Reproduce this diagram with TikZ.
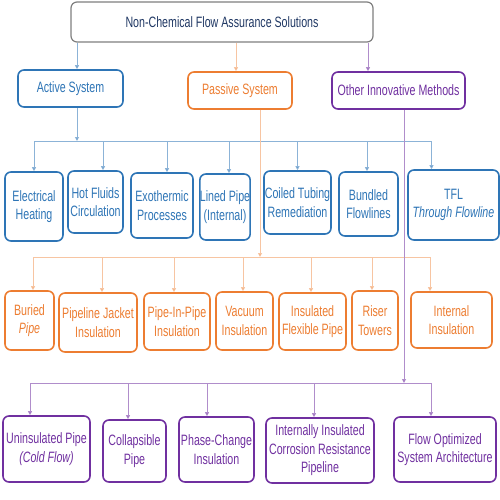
\documentclass[tikz,border=0pt]{standalone}
\usepackage{fontspec}
\setmainfont{Liberation Sans}[FakeStretch=0.71]
\usepackage{tikz}
\usetikzlibrary{arrows.meta,positioning}
\usepackage{xcolor}
\definecolor{actblue}{HTML}{2E75B6}
\definecolor{pasorange}{HTML}{ED7D31}
\definecolor{othpurple}{HTML}{7030A0}
\definecolor{topnavy}{HTML}{203864}
\definecolor{topgray}{HTML}{7F7F7F}
\tikzstyle{box} = [
    draw,
    line width=1.6pt,
    rounded corners=6pt,
    align=center,
    inner sep=0pt,
    fill=white
]
\tikzstyle{actbox} = [box, draw=actblue, text=actblue]
\tikzstyle{pasbox} = [box, draw=pasorange, text=pasorange]
\tikzstyle{othbox} = [box, draw=othpurple, text=othpurple]
\tikzstyle{barrow} = [line width=0.9pt, -{Triangle[width=4pt,length=4pt,fill=actblue]}, draw=actblue!55]
\tikzstyle{parrow} = [line width=0.9pt, -{Triangle[width=4pt,length=4pt,fill=pasorange]}, draw=pasorange!45]
\tikzstyle{oarrow} = [line width=0.9pt, -{Triangle[width=4pt,length=4pt,fill=othpurple]}, draw=othpurple!55]

\begin{document}
\begin{tikzpicture}[x=1pt,y=-1pt,font=\fontsize{15}{18.5}\selectfont]
\useasboundingbox (0,0) rectangle (500,500);

% Root
\node[box, draw=topgray, line width=1.2pt, text=topnavy, minimum width=302pt, minimum height=40pt] (root) at (222,22) {Non-Chemical Flow Assurance Solutions};

% Main branches
\node[actbox, minimum width=105pt, minimum height=37pt] (act) at (70.5,88.5) {Active System};
\node[pasbox, minimum width=104pt, minimum height=37pt] (pas) at (240,90.5) {Passive System};
\node[othbox, minimum width=133pt, minimum height=37pt] (oth) at (398.5,90.5) {Other Innovative Methods};

\draw[barrow] ([xshift=6.5]act.north |- root.south) -- ([xshift=6.5]act.north);
\draw[parrow] ([xshift=-4]pas.north |- root.south) -- ([xshift=-4]pas.north);
\draw[oarrow] ([xshift=-30.5]oth.north |- root.south) -- ([xshift=-30.5]oth.north);

% Active system methods
\node[actbox, minimum width=58pt, minimum height=69pt] (eh) at (34,206.5) {Electrical\\Heating};
\node[actbox, minimum width=55pt, minimum height=62pt] (hf) at (95.5,202) {Hot Fluids\\Circulation};
\node[actbox, minimum width=62pt, minimum height=65pt] (ex) at (162,205.5) {Exothermic\\Processes};
\node[actbox, minimum width=50pt, minimum height=66pt] (lp) at (225,207) {Lined Pipe\\(Internal)};
\node[actbox, minimum width=67pt, minimum height=63pt] (ct) at (297.5,202.5) {Coiled Tubing\\Remediation};
\node[actbox, minimum width=59pt, minimum height=64pt] (bf) at (368.5,204) {Bundled\\Flowlines};
\node[actbox, minimum width=91pt, minimum height=70pt] (tfl) at (453.5,205) {TFL\\\textit{Through Flowline}};

% Passive system methods
\node[pasbox, minimum width=49pt, minimum height=59pt] (bp) at (29.5,320.5) {Buried\\\textit{Pipe}};
\node[pasbox, minimum width=78pt, minimum height=59pt] (pj) at (98,322.5) {Pipeline Jacket\\Insulation};
\node[pasbox, minimum width=66pt, minimum height=57pt] (pip) at (177,321.5) {Pipe-In-Pipe\\Insulation};
\node[pasbox, minimum width=57pt, minimum height=58pt] (vi) at (244.5,321) {Vacuum\\Insulation};
\node[pasbox, minimum width=67pt, minimum height=57pt] (ifp) at (312.5,321.5) {Insulated\\Flexible Pipe};
\node[pasbox, minimum width=46pt, minimum height=59pt] (rt) at (375,320.5) {Riser\\Towers};
\node[pasbox, minimum width=81pt, minimum height=56pt] (ii) at (451.5,320) {Internal\\Insulation};

% Other innovative methods
\node[othbox, minimum width=87pt, minimum height=66pt] (up) at (46.5,449) {Uninsulated Pipe\\\textit{(Cold Flow)}};
\node[othbox, minimum width=63pt, minimum height=62pt] (cp) at (134.5,451) {Collapsible\\Pipe};
\node[othbox, minimum width=75pt, minimum height=65pt] (pc) at (216.5,449.5) {Phase-Change\\Insulation};
\node[othbox, minimum width=108pt, minimum height=65pt] (iic) at (320,450.5) {Internally Insulated\\Corrosion Resistance\\Pipeline};
\node[othbox, minimum width=102pt, minimum height=65pt] (fo) at (445,449.5) {Flow Optimized\\System Architecture};

% Bus lines
\coordinate (actbus) at (0,141);
\coordinate (pasbus) at (0,257);
\coordinate (othbus) at (0,383);

\draw[barrow] ([xshift=6.5]act.south) -- ([xshift=6.5]act.south |- actbus);
\draw[draw=actblue!55, line width=0.9pt] (eh.north |- actbus) -- ([xshift=-22]tfl.north |- actbus);
\draw[barrow] (eh.north |- actbus) -- (eh.north);
\draw[barrow] ([xshift=7.5]hf.north |- actbus) -- ([xshift=7.5]hf.north);
\draw[barrow] ([xshift=5]ex.north |- actbus) -- ([xshift=5]ex.north);
\draw[barrow] ([xshift=4]lp.north |- actbus) -- ([xshift=4]lp.north);
\draw[barrow] (ct.north |- actbus) -- (ct.north);
\draw[barrow] ([xshift=-1.5]bf.north |- actbus) -- ([xshift=-1.5]bf.north);
\draw[barrow] ([xshift=-22]tfl.north |- actbus) -- ([xshift=-22]tfl.north);

\draw[parrow] ([xshift=20]pas.south) -- ([xshift=20]pas.south |- pasbus);
\draw[draw=pasorange!45, line width=0.9pt] ([xshift=3.5]bp.north |- pasbus) -- ([xshift=-21.5]ii.north |- pasbus);
\draw[parrow] ([xshift=3.5]bp.north |- pasbus) -- ([xshift=3.5]bp.north);
\draw[parrow] ([xshift=4]pj.north |- pasbus) -- ([xshift=4]pj.north);
\draw[parrow] ([xshift=-3]pip.north |- pasbus) -- ([xshift=-3]pip.north);
\draw[parrow] ([xshift=-1.5]vi.north |- pasbus) -- ([xshift=-1.5]vi.north);
\draw[parrow] ([xshift=-1.5]ifp.north |- pasbus) -- ([xshift=-1.5]ifp.north);
\draw[parrow] ([xshift=-3]rt.north |- pasbus) -- ([xshift=-3]rt.north);
\draw[parrow] ([xshift=-21.5]ii.north |- pasbus) -- ([xshift=-21.5]ii.north);

\draw[oarrow] ([xshift=5.5]oth.south) -- ([xshift=5.5]oth.south |- othbus);
\draw[draw=othpurple!55, line width=0.9pt] ([xshift=-16.5]up.north |- othbus) -- ([xshift=-14]fo.north |- othbus);
\draw[oarrow] ([xshift=-16.5]up.north |- othbus) -- ([xshift=-16.5]up.north);
\draw[oarrow] ([xshift=-6.5]cp.north |- othbus) -- ([xshift=-6.5]cp.north);
\draw[oarrow] ([xshift=-9.5]pc.north |- othbus) -- ([xshift=-9.5]pc.north);
\draw[oarrow] ([xshift=-6]iic.north |- othbus) -- ([xshift=-6]iic.north);
\draw[oarrow] ([xshift=-14]fo.north |- othbus) -- ([xshift=-14]fo.north);
\end{tikzpicture}
\end{document}
